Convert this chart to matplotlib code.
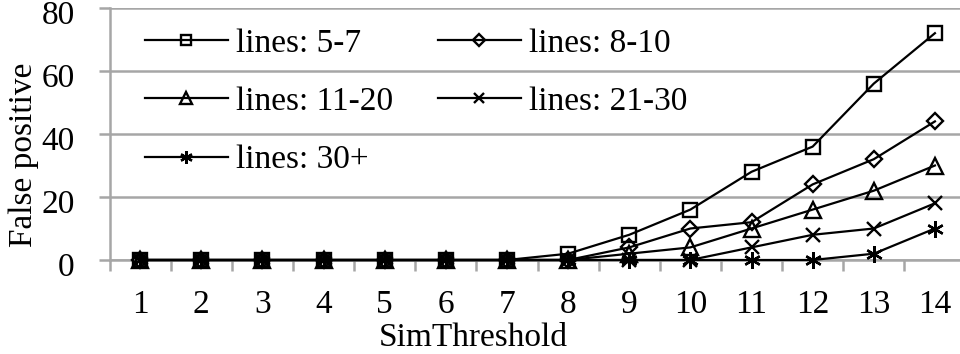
import matplotlib
matplotlib.use("Agg")
import matplotlib.pyplot as plt
import matplotlib.ticker as tck
import matplotlib.transforms as mtrans

# SimThreshold categories and false positive counts per line-range group
thresholds = list(range(1, 15))
fp_5_7 = [0, 0, 0, 0, 0, 0, 0, 2, 8, 16, 28, 36, 56, 72]
fp_8_10 = [0, 0, 0, 0, 0, 0, 0, 0, 4, 10, 12, 24, 32, 44]
fp_11_20 = [0, 0, 0, 0, 0, 0, 0, 0, 2, 4, 10, 16, 22, 30]
fp_21_30 = [0, 0, 0, 0, 0, 0, 0, 0, 0, 0, 4, 8, 10, 18]
fp_30_plus = [0, 0, 0, 0, 0, 0, 0, 0, 0, 0, 0, 0, 2, 10]

labels = ["lines: 5-7", "lines: 8-10", "lines: 11-20", "lines: 21-30", "lines: 30+"]
series = [fp_5_7, fp_8_10, fp_11_20, fp_21_30, fp_30_plus]
markers = ["s", "D", "^", "x", (6, 2, 0)]
msizes = [9.5, 8.5, 11.5, 9.5, 12]

plt.rcParams["font.family"] = ["Liberation Serif", "DejaVu Serif"]
grid_grey = "#a6a6a6"
fs = 24

W, H = 960, 354
fig = plt.figure(figsize=(W / 100, H / 100), dpi=100)
# category axis: 0.5 -> x=109.5px, 14.5 -> x=965.5px (runs off the right edge like the source)
x_left, x_right = 109.5, 965.5
y_top, y_bot = 8, 260
ax = fig.add_axes([x_left / W, 1 - y_bot / H, (x_right - x_left) / W, (y_bot - y_top) / H])

lines = []
for vals, lab, mk, ms in zip(series, labels, markers, msizes):
    ln, = ax.plot(thresholds, vals, color="black", lw=1.6, marker=mk, markersize=ms,
                  markerfacecolor="none", markeredgecolor="black", markeredgewidth=1.7,
                  label=lab, clip_on=False, zorder=3)
    lines.append(ln)

ax.set_xlim(0.5, 14.5)
ax.set_ylim(0, 80)
ax.set_yticks([0, 20, 40, 60, 80])
ax.set_xticks(thresholds)
ax.xaxis.set_minor_locator(tck.FixedLocator([t + 0.5 for t in range(0, 15)]))
ax.tick_params(axis="x", which="major", length=0, pad=21, labelsize=fs)
ax.tick_params(axis="x", which="minor", length=8, width=1.8, color=grid_grey, direction="out")
ax.tick_params(axis="y", which="major", length=8, width=1.8, color=grid_grey, labelsize=fs, pad=17)

# y labels sit a few pixels below their gridlines in the source
shift = mtrans.ScaledTranslation(0, -4 / 100, fig.dpi_scale_trans)
for lbl in ax.get_yticklabels():
    lbl.set_transform(lbl.get_transform() + shift)

ax.grid(axis="y", color=grid_grey, lw=1.8)
ax.set_axisbelow(True)
for side in ["top", "right"]:
    ax.spines[side].set_visible(False)
for side in ["left", "bottom"]:
    ax.spines[side].set_color(grid_grey)
    ax.spines[side].set_linewidth(1.8)

ax.set_xlabel("SimThreshold", fontsize=fs)
ax.set_ylabel("False positive", fontsize=fs)
ax_w = x_right - x_left
ax_h = y_bot - y_top
ax.xaxis.set_label_coords((473 - x_left) / ax_w, (y_bot - 322) / ax_h)
ax.yaxis.set_label_coords((39 - x_left) / ax_w, (y_bot - 155) / ax_h)

# legend filled row by row: 5-7, 8-10 / 11-20, 21-30 / 30+
order = [0, 2, 4, 1, 3]
leg = ax.legend([lines[i] for i in order], [labels[i] for i in order],
                loc="upper left", ncol=2, frameon=False, fontsize=fs,
                bbox_to_anchor=(145 / W, 1 - 28 / H), bbox_transform=fig.transFigure,
                borderpad=0, borderaxespad=0, handlelength=2.48, handletextpad=0.24,
                columnspacing=1.36, labelspacing=0.84, markerscale=0.75)

fig.savefig("out.png", dpi=100)
